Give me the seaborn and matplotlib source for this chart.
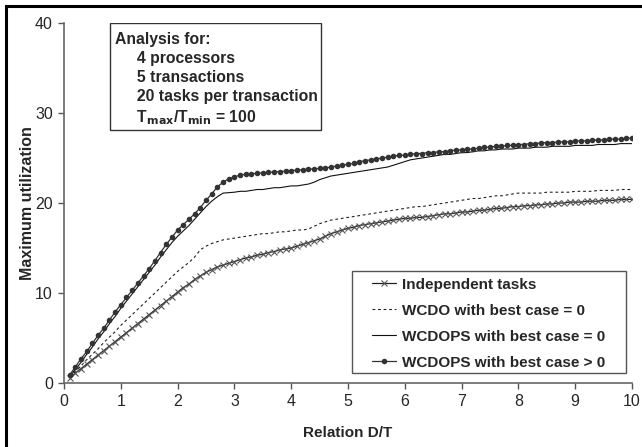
import matplotlib
matplotlib.use("Agg")
import matplotlib.pyplot as plt
from matplotlib.patches import Rectangle
import seaborn as sns
import pandas as pd

# D/T relation, 0.1 .. 10.0
relation = [round(0.1 * i, 1) for i in range(1, 101)]

independent = [
    0.6, 1.1, 1.6, 2.1, 2.6, 3.1, 3.6, 4.1, 4.6, 5.1,
    5.6, 6.1, 6.6, 7.1, 7.6, 8.1, 8.6, 9.1, 9.6, 10.1,
    10.6, 11.0, 11.5, 11.9, 12.3, 12.6, 12.9, 13.1, 13.3, 13.5,
    13.7, 13.9, 14.0, 14.2, 14.3, 14.5, 14.6, 14.8, 14.9, 15.0,
    15.2, 15.4, 15.6, 15.8, 16.0, 16.3, 16.6, 16.8, 17.0, 17.2,
    17.3, 17.5, 17.6, 17.7, 17.8, 17.9, 18.0, 18.1, 18.2, 18.3,
    18.3, 18.4, 18.4, 18.5, 18.6, 18.7, 18.8, 18.8, 18.9, 19.0,
    19.0, 19.1, 19.2, 19.2, 19.3, 19.4, 19.4, 19.5, 19.6, 19.6,
    19.7, 19.7, 19.8, 19.8, 19.9, 19.9, 20.0, 20.0, 20.1, 20.1,
    20.1, 20.2, 20.2, 20.2, 20.3, 20.3, 20.3, 20.4, 20.4, 20.4,
]

wcdo_bc0 = [
    0.7, 1.3, 1.9, 2.6, 3.2, 3.8, 4.5, 5.1, 5.7, 6.4,
    7.0, 7.6, 8.2, 8.8, 9.4, 10.0, 10.6, 11.2, 11.8, 12.4,
    12.9, 13.4, 14.0, 14.8, 15.2, 15.5, 15.7, 15.9, 16.0, 16.1,
    16.2, 16.3, 16.4, 16.5, 16.6, 16.6, 16.7, 16.8, 16.8, 16.9,
    17.0, 17.0, 17.1, 17.4, 17.7, 17.9, 18.1, 18.2, 18.3, 18.4,
    18.5, 18.6, 18.7, 18.8, 18.9, 19.0, 19.1, 19.2, 19.3, 19.4,
    19.5, 19.6, 19.6, 19.7, 19.8, 19.9, 20.0, 20.1, 20.2, 20.3,
    20.4, 20.5, 20.5, 20.6, 20.7, 20.8, 20.8, 20.9, 21.0, 21.1,
    21.1, 21.1, 21.1, 21.1, 21.2, 21.2, 21.2, 21.2, 21.2, 21.3,
    21.3, 21.3, 21.3, 21.4, 21.4, 21.4, 21.4, 21.5, 21.5, 21.5,
]

wcdops_bc0 = [
    0.7, 1.5, 2.3, 3.2, 4.0, 4.9, 5.7, 6.6, 7.4, 8.3,
    9.1, 9.9, 10.7, 11.5, 12.3, 13.1, 14.0, 14.8, 15.6, 16.3,
    16.9, 17.5, 18.2, 18.9, 19.6, 20.2, 20.7, 21.1, 21.15, 21.2,
    21.3, 21.3, 21.4, 21.5, 21.5, 21.6, 21.7, 21.7, 21.8, 21.9,
    21.9, 22.0, 22.1, 22.3, 22.6, 22.8, 23.0, 23.1, 23.2, 23.3,
    23.4, 23.5, 23.6, 23.7, 23.8, 23.9, 24.0, 24.2, 24.4, 24.6,
    24.8, 24.9, 25.0, 25.1, 25.2, 25.3, 25.4, 25.4, 25.5, 25.6,
    25.6, 25.7, 25.8, 25.8, 25.9, 25.9, 26.0, 26.0, 26.0, 26.1,
    26.1, 26.1, 26.2, 26.2, 26.2, 26.3, 26.3, 26.3, 26.3, 26.4,
    26.4, 26.4, 26.4, 26.5, 26.5, 26.5, 26.5, 26.6, 26.6, 26.6,
]

wcdops_bcpos = [
    0.9, 1.8, 2.7, 3.5, 4.4, 5.3, 6.1, 7.0, 7.9, 8.7,
    9.5, 10.3, 11.1, 11.9, 12.7, 13.6, 14.5, 15.4, 16.2, 17.0,
    17.6, 18.2, 18.8, 19.5, 20.3, 21.0, 21.8, 22.3, 22.7, 22.9,
    23.1, 23.2, 23.25, 23.3, 23.35, 23.4, 23.45, 23.5, 23.55, 23.6,
    23.65, 23.7, 23.75, 23.8, 23.85, 23.9, 24.0, 24.1, 24.2, 24.3,
    24.4, 24.6, 24.7, 24.8, 24.9, 25.0, 25.1, 25.2, 25.3, 25.3,
    25.4, 25.5, 25.5, 25.6, 25.6, 25.7, 25.7, 25.8, 25.9, 25.9,
    26.0, 26.0, 26.1, 26.2, 26.2, 26.3, 26.3, 26.4, 26.4, 26.5,
    26.5, 26.6, 26.6, 26.7, 26.7, 26.7, 26.8, 26.8, 26.8, 26.9,
    26.9, 26.9, 27.0, 27.0, 27.0, 27.1, 27.1, 27.1, 27.2, 27.2,
]

df = pd.DataFrame({
    "relation": relation,
    "Independent tasks": independent,
    "WCDO with best case = 0": wcdo_bc0,
    "WCDOPS with best case = 0": wcdops_bc0,
    "WCDOPS with best case > 0": wcdops_bcpos,
})

sns.set_style("ticks")
plt.rcParams["font.family"] = ["Liberation Sans", "DejaVu Sans"]

fig = plt.figure(figsize=(6.42, 4.47), dpi=100)
ax = fig.add_axes([0.0997, 0.1432, 0.8847, 0.8053])

sns.lineplot(data=df, x="relation", y="Independent tasks", ax=ax,
             color="#222222", lw=0.9, marker="x", markersize=4.5,
             markeredgewidth=0.8, markeredgecolor="#555555",
             label="Independent tasks")
sns.lineplot(data=df, x="relation", y="WCDO with best case = 0", ax=ax,
             color="#222222", lw=0.8, dashes=(2.5, 2.5),
             label="WCDO with best case = 0")
sns.lineplot(data=df, x="relation", y="WCDOPS with best case = 0", ax=ax,
             color="#111111", lw=0.8, label="WCDOPS with best case = 0")
sns.lineplot(data=df, x="relation", y="WCDOPS with best case > 0", ax=ax,
             color="#333333", lw=0.9, marker="o", markersize=4,
             markeredgewidth=0, label="WCDOPS with best case > 0")

ax.set_xlim(0, 10)
ax.set_ylim(0, 40)
ax.set_xticks(range(0, 11))
ax.set_yticks([0, 10, 20, 30, 40])
ax.tick_params(axis="both", labelsize=11.5, length=4, width=1,
               color="#555555", direction="out", pad=4)
for side in ["top", "right"]:
    ax.spines[side].set_visible(False)
for side in ["left", "bottom"]:
    ax.spines[side].set_color("#666666")
    ax.spines[side].set_linewidth(1.2)

ax.set_xlabel("Relation D/T", fontsize=11, fontweight="bold", labelpad=12)
ax.set_ylabel("Maximum utilization", fontsize=11.5, fontweight="bold",
              labelpad=0)

# legend without its own frame, the frame is drawn below to match the box
leg = ax.legend(loc="upper left", bbox_to_anchor=(0.542, 0.293),
                prop={"weight": "bold", "size": 11}, frameon=False,
                handlelength=1.6, handletextpad=0.35, borderpad=0,
                borderaxespad=0, labelspacing=0.79)
ax.add_patch(Rectangle((0.507, 0.028), 0.482, 0.283, transform=ax.transAxes,
                       fill=True, fc="white", ec="#555555", lw=1.0,
                       zorder=4))
leg.set_zorder(5)

# info box
ax.add_patch(Rectangle((0.081, 0.703), 0.371, 0.297, transform=ax.transAxes,
                       fill=True, fc="white", ec="#333333", lw=1.0,
                       zorder=4))
info = ("Analysis for:\n"
        "     4 processors\n"
        "     5 transactions\n"
        "     20 tasks per transaction\n"
        "     T$_{\\mathbf{max}}$/T$_{\\mathbf{min}}$ = 100")
ax.text(0.090, 0.975, info, transform=ax.transAxes, va="top", ha="left",
        fontsize=11.3, fontweight="bold", linespacing=1.32, zorder=5)

# outer frame (left and top edges of the original picture)
fig.patches.append(Rectangle((6 / 642, -0.1), 1.2, 1.1 - 6 / 447,
                             transform=fig.transFigure, fill=False,
                             ec="black", lw=2.2))

fig.savefig("out.png", dpi=100)
